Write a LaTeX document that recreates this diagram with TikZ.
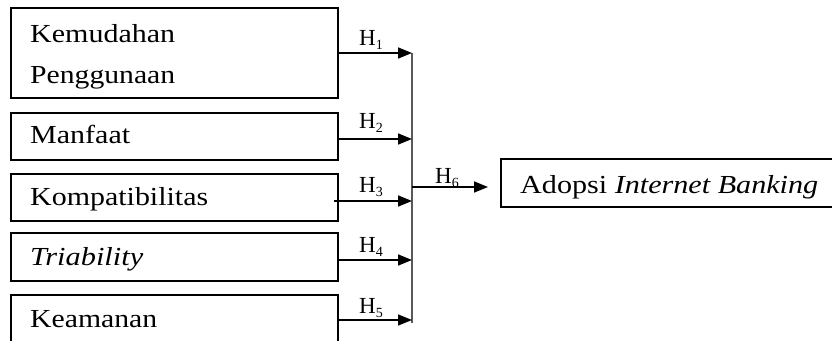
\documentclass[tikz,border=0pt]{standalone}
\usepackage{fontspec}
\usepackage{graphicx}
\setmainfont{Liberation Serif}
\usetikzlibrary{arrows.meta}
\newcommand\fitw[2]{\resizebox{#1pt}{\height}{#2}}
\newcommand\hsub[1]{H\raisebox{-4pt}{\fontsize{14}{14}\selectfont #1}}
\tikzset{
  box/.style={draw=black, line width=1.5pt},
  txt/.style={anchor=base west, inner sep=0pt, font=\fontsize{26}{30}\selectfont},
  hlab/.style={anchor=base west, inner sep=0pt, font=\fontsize{23}{25}\selectfont},
  arr/.style={line width=1.6pt, -{Triangle[length=14pt,width=11pt]}},
  bus/.style={line width=2pt, draw=black!65}
}
\begin{document}
\begin{tikzpicture}[x=1pt,y=-1pt]
\useasboundingbox (0,0) rectangle (832,340);
% boxes
\draw[box] (11,8) rectangle (338,98);
\coordinate (b1) at (338,53);
\draw[box] (11,113) rectangle (338,160);
\coordinate (b2) at (338,139);
\draw[box] (11,174) rectangle (338,221);
\coordinate (b3) at (334,201);
\draw[box] (11,233) rectangle (338,281);
\coordinate (b4) at (338,260);
\draw[box] (11,360) -- (11,295) -- (338,295) -- (338,360);
\coordinate (b5) at (338,320);
\draw[box] (850,159) -- (501,159) -- (501,207) -- (850,207);
\coordinate (b6) at (501,187);
% texts
\node[txt] (t1) at (30,42) {\fitw{145}{Kemudahan}};
\node[txt] (t1b) at (30,83) {\fitw{145}{Penggunaan}};
\node[txt] (t2) at (30,143) {\fitw{100}{Manfaat}};
\node[txt] (t3) at (30,205) {\fitw{178}{Kompatibilitas}};
\node[txt] (t4) at (30,265) {\fitw{113}{\itshape Triability}};
\node[txt] (t5) at (30,327) {\fitw{127}{Keamanan}};
\node[txt] (t6) at (520,193) {\fitw{298}{Adopsi \itshape Internet Banking}};
% junctions
\coordinate (j1) at (412,53);
\coordinate (j2) at (412,139);
\coordinate (j3) at (412,201);
\coordinate (j4) at (412,260);
\coordinate (j5) at (412,320);
\coordinate (jb) at (412,323);
\coordinate (j6) at (412,187);
\coordinate (a6) at (488,187);
\draw[bus] (j1) -- (jb);
\draw[arr] (b1) -- (j1);
\draw[arr] (b2) -- (j2);
\draw[arr] (b3) -- (j3);
\draw[arr] (b4) -- (j4);
\draw[arr] (b5) -- (j5);
\draw[arr] (j6) -- (a6);
% labels
\node[hlab] (h1) at (359,45) {\hsub{1}};
\node[hlab] (h2) at (359,128) {\hsub{2}};
\node[hlab] (h3) at (359,192) {\hsub{3}};
\node[hlab] (h4) at (359,252) {\hsub{4}};
\node[hlab] (h5) at (359,313) {\hsub{5}};
\node[hlab] (h6) at (435,183) {\hsub{6}};
\end{tikzpicture}
\end{document}
